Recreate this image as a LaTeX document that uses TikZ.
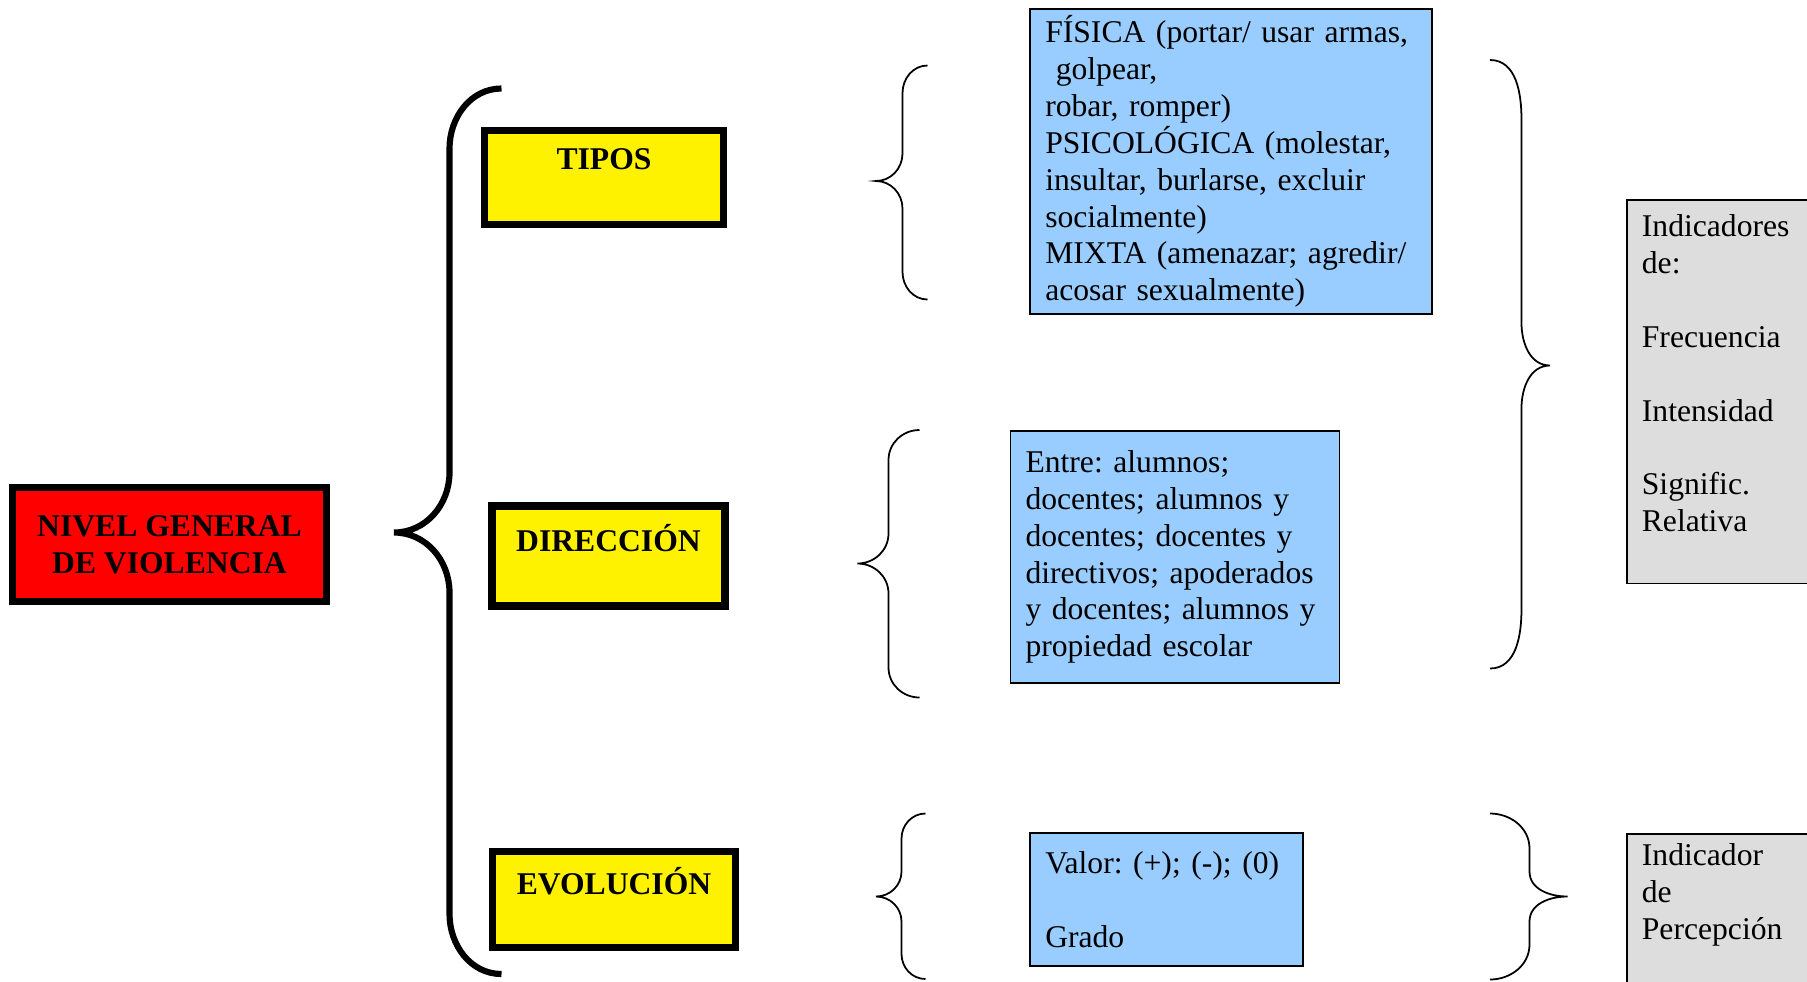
\documentclass[tikz,border=0pt]{standalone}
\usepackage{fontspec}
\setmainfont{Liberation Serif}
\usepackage{xcolor}
\usepackage{tikz}
\usetikzlibrary{positioning}
\pgfdeclarelayer{edgelayer}
\pgfdeclarelayer{nodelayer}
\pgfsetlayers{edgelayer,nodelayer,main}
\frenchspacing
\definecolor{skyfill}{RGB}{153,204,255}
\definecolor{greyfill}{RGB}{221,221,221}
\newcommand{\diagfont}{\fontsize{18}{21}\selectfont}
\tikzstyle{thick box}=[draw=black,line width=4pt,align=center,font={\diagfont\bfseries}]
\tikzstyle{rn}=[thick box,fill=red]
\tikzstyle{yn}=[thick box,fill=yellow]
\tikzstyle{thin box}=[draw=black,line width=1pt,align=left,inner xsep=0.3cm,inner ysep=0.1cm,font=\diagfont]
\tikzstyle{bn}=[thin box,fill=skyfill]
\tikzstyle{gn}=[thin box,fill=greyfill]
\tikzstyle{curl}=[line width=1pt]
\tikzstyle{big curl}=[line width=3.5pt]

\begin{document}
\begin{tikzpicture}
	\useasboundingbox (0,0) rectangle (36.14,-19.62);
	\begin{pgfonlayer}{nodelayer}
		\node [style=rn, minimum width=6.27cm, minimum height=2.28cm] (nivel) at (3.39,-10.89) {NIVEL GENERAL\\DE VIOLENCIA};
		\node [style=yn, minimum width=4.79cm, minimum height=1.88cm] (tipos) at (12.08,-3.55) {TIPOS\\~};
		\node [style=yn, minimum width=4.66cm, minimum height=2.00cm] (direccion) at (12.17,-11.12) {DIRECCIÓN\\~};
		\node [style=yn, minimum width=4.87cm, minimum height=1.92cm] (evolucion) at (12.28,-17.99) {EVOLUCIÓN\\~};
		\node [style=bn, text width=7.43cm, minimum height=6.10cm] (tiposlist) at (24.62,-3.23) {FÍSICA (portar/ usar armas,\\~golpear,\\robar, romper)\\PSICOLÓGICA (molestar,\\insultar, burlarse, excluir\\socialmente)\\MIXTA (amenazar; agredir/\\acosar sexualmente)};
		\node [style=bn, text width=5.98cm, minimum height=5.04cm] (entre) at (23.50,-11.14) {Entre: alumnos;\\docentes; alumnos y\\docentes; docentes y\\directivos; apoderados\\y docentes; alumnos y\\propiedad escolar};
		\node [style=bn, text width=4.85cm, minimum height=2.67cm] (valor) at (23.33,-17.99) {Valor: (+); (-); (0)\\~\\Grado};
		\node [style=gn, text width=3.6cm, minimum height=7.67cm, anchor=north west] (indicadores) at (32.52,-3.98) {Indicadores\\de:\\~\\Frecuencia\\~\\Intensidad\\~\\Signific.\\Relativa\\~};
		\node [style=gn, text width=3.6cm, inner ysep=0.2cm, anchor=north west] (percepcion) at (32.52,-16.66) {Indicador\\de\\Percepción\\~\\~};
	\end{pgfonlayer}
	\begin{pgfonlayer}{edgelayer}
		% big brace round the three categories
		\draw [style=big curl] (10.03,-1.77) to[out=180,in=90] (8.99,-2.97) -- (8.99,-9.45) to[out=-90,in=0] (7.88,-10.65)
			to[out=0,in=90] (8.99,-11.85) -- (8.99,-18.28) to[out=-90,in=180] (10.03,-19.48);
		% left braces
		\draw [style=curl] (18.55,-1.31) to[out=180,in=90] (18.05,-1.86) -- (18.05,-3.07) to[out=-90,in=0] (17.52,-3.62)
			to[out=0,in=90] (18.05,-4.17) -- (18.05,-5.44) to[out=-90,in=180] (18.55,-5.99);
		\draw [style=curl] (18.39,-8.60) to[out=180,in=90] (17.77,-9.20) -- (17.77,-10.67) to[out=-90,in=0] (17.15,-11.27)
			to[out=0,in=90] (17.77,-11.87) -- (17.77,-13.35) to[out=-90,in=180] (18.39,-13.95);
		\draw [style=curl] (18.51,-16.27) to[out=180,in=90] (18.03,-16.77) -- (18.03,-17.43) to[out=-90,in=0] (17.52,-17.93)
			to[out=0,in=90] (18.03,-18.43) -- (18.03,-19.08) to[out=-90,in=180] (18.51,-19.58);
		% right braces
		\draw [style=curl] (29.80,-1.20) to[out=0,in=90] (30.43,-2.40) -- (30.43,-6.46) to[out=-90,in=180] (31.00,-7.31)
			to[out=180,in=90] (30.43,-8.16) -- (30.43,-12.17) to[out=-90,in=0] (29.80,-13.37);
		\draw [style=curl] (29.80,-16.27) to[out=0,in=90] (30.59,-16.97) -- (30.59,-17.43) to[out=-90,in=180] (31.35,-17.93)
			to[out=180,in=90] (30.59,-18.43) -- (30.59,-18.89) to[out=-90,in=0] (29.80,-19.59);
	\end{pgfonlayer}
\end{tikzpicture}
\end{document}
